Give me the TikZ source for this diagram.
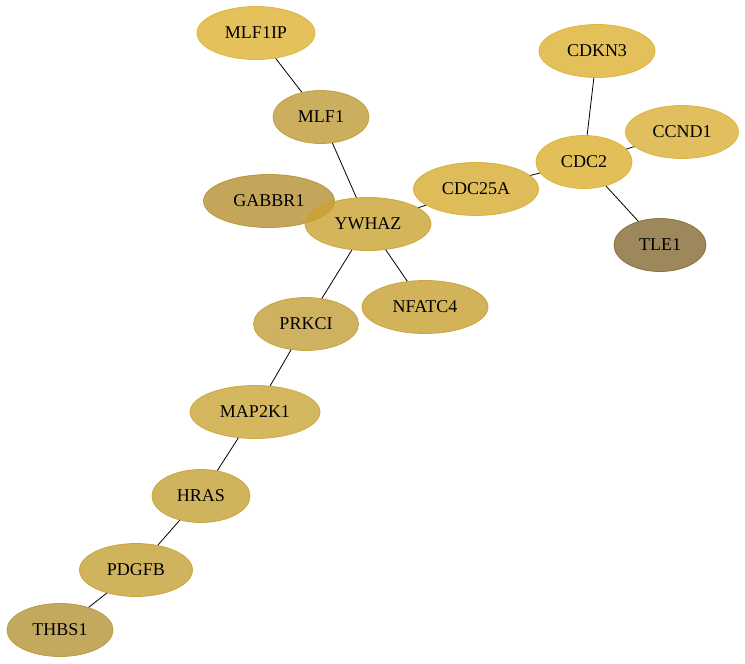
\documentclass[tikz,border=0pt]{standalone}
\usepackage{fontspec}
\setmainfont{Liberation Serif}
\usetikzlibrary{shapes.geometric}

\definecolor{cMLFIP}{RGB}{221,178,49}
\definecolor{cCDKN}{RGB}{221,176,49}
\definecolor{cCCND}{RGB}{219,175,54}
\definecolor{cCDC}{RGB}{220,175,46}
\definecolor{cCDCA}{RGB}{215,171,49}
\definecolor{cYWHAZ}{RGB}{203,163,49}
\definecolor{cGABBR}{RGB}{181,144,49}
\definecolor{cMLF}{RGB}{190,154,54}
\definecolor{cTLE}{RGB}{133,106,51}
\definecolor{cNFATC}{RGB}{200,160,48}
\definecolor{cPRKCI}{RGB}{195,159,55}
\definecolor{cMAPK}{RGB}{201,165,54}
\definecolor{cHRAS}{RGB}{196,161,53}
\definecolor{cPDGFB}{RGB}{196,161,53}
\definecolor{cTHBS}{RGB}{180,148,54}

\begin{document}
\begin{tikzpicture}[x=1pt,y=-1pt,
  gene/.style={ellipse,draw=#1,fill=#1,fill opacity=0.8,draw opacity=0.9,text opacity=1,
    line width=0.8pt,minimum height=53pt,inner sep=0pt,
    font=\fontsize{18}{20}\selectfont},
  link/.style={black,line width=0.8pt}]
\useasboundingbox (0,0) rectangle (745,664);
% proteins
\node [gene=cMLFIP,minimum width=118pt] (mlfip) at (256,33) {MLF1IP};
\node [gene=cCDKN,minimum width=116pt] (cdkn) at (597,51) {CDKN3};
\node [gene=cMLF,minimum width=96pt] (mlf) at (321,117) {MLF1};
\node [gene=cCCND,minimum width=113pt] (ccnd) at (682,132) {CCND1};
\node [gene=cCDC,minimum width=96pt] (cdc) at (584,162) {CDC2};
\node [gene=cCDCA,minimum width=125pt] (cdca) at (476,189) {CDC25A};
\node [gene=cGABBR,minimum width=131pt] (gabbr) at (269,201) {GABBR1};
\node [gene=cYWHAZ,minimum width=126pt] (ywhaz) at (368,224) {YWHAZ};
\node [gene=cTLE,minimum width=92pt] (tle) at (660,245) {TLE1};
\node [gene=cNFATC,minimum width=126pt] (nfatc) at (425,307) {NFATC4};
\node [gene=cPRKCI,minimum width=105pt] (prkci) at (306,324) {PRKCI};
\node [gene=cMAPK,minimum width=130pt] (mapk) at (255,412) {MAP2K1};
\node [gene=cHRAS,minimum width=98pt] (hras) at (201,496) {HRAS};
\node [gene=cPDGFB,minimum width=113pt] (pdgfb) at (136,570) {PDGFB};
\node [gene=cTHBS,minimum width=106pt] (thbs) at (60,630) {THBS1};
% interactions
\draw [link] (mlfip) -- (mlf);
\draw [link] (mlf) -- (ywhaz);
\draw [link] (ywhaz) -- (cdca);
\draw [link] (cdca) -- (cdc);
\draw [link] (cdc) -- (cdkn);
\draw [link] (cdc) -- (ccnd);
\draw [link] (cdc) -- (tle);
\draw [link] (ywhaz) -- (nfatc);
\draw [link] (ywhaz) -- (prkci);
\draw [link] (prkci) -- (mapk);
\draw [link] (mapk) -- (hras);
\draw [link] (hras) -- (pdgfb);
\draw [link] (pdgfb) -- (thbs);
\end{tikzpicture}
\end{document}
